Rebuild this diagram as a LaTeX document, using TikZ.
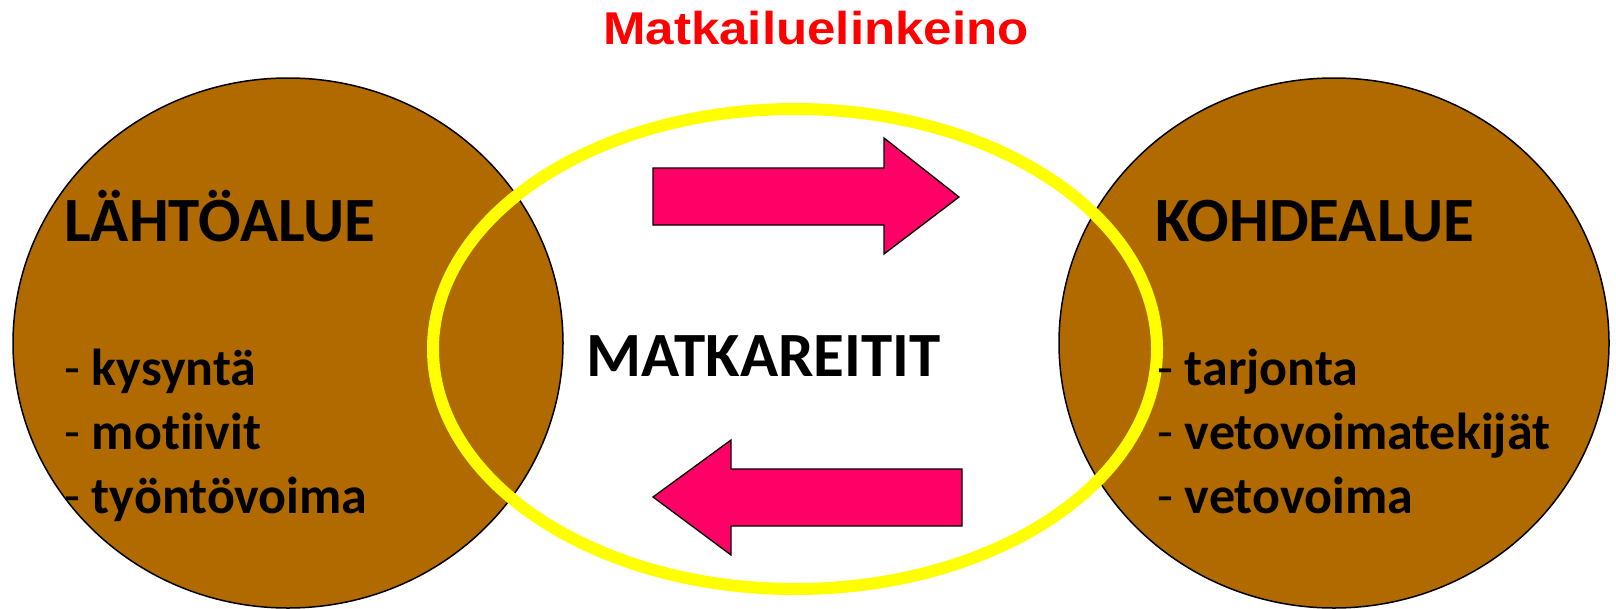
\documentclass[tikz,border=0pt]{standalone}
\usepackage{fontspec}
\setmainfont[Ligatures=NoCommon,RawFeature={-liga;-dlig;-clig}]{Carlito}
\newfontfamily\titlefont[FakeStretch=1.11]{Liberation Sans}
\usetikzlibrary{shapes.geometric}
\definecolor{areabrown}{RGB}{176,106,0}
\definecolor{arrowpink}{RGB}{255,0,102}
\definecolor{routeyellow}{RGB}{255,255,0}
\tikzset{
  area/.style={ellipse, draw=black, line width=1.5pt, fill=areabrown, minimum width=550pt, minimum height=530pt, inner sep=0pt},
  route/.style={ellipse, draw=routeyellow, line width=12pt, minimum width=724pt, minimum height=480pt, inner sep=0pt},
  flow/.style={fill=arrowpink, draw=black, line width=1.3pt, line join=miter},
  heading/.style={font=\bfseries\fontsize{63}{63}\selectfont, anchor=base west, inner sep=0pt},
  item/.style={font=\fontsize{52}{52}\selectfont, anchor=base west, inner sep=0pt},
}
\begin{document}
\begin{tikzpicture}[x=1pt,y=-1pt]
\useasboundingbox (0,0) rectangle (1616,608);
\fill[white] (0,0) rectangle (1616,608);
% areas
\node[area] (lahto) at (288,343) {};
\node[area] (kohde) at (1334,343) {};
% travel routes ellipse
\node[route] (reitit) at (795,349) {};
% arrows
\draw[flow] (653,168) -- (884,168) -- (884,138) -- (959,197) -- (884,254) -- (884,225) -- (653,225) -- cycle;
\draw[flow] (962,469) -- (731,469) -- (731,440) -- (653,497) -- (731,555) -- (731,526) -- (962,526) -- cycle;
% title
\node[font=\titlefont\bfseries\fontsize{46}{46}\selectfont, text=red, anchor=base, inner sep=0pt] (title) at (816,44) {Matkailuelinkeino};
% left texts
\node[heading] (lh) at (64,241) {LÄHTÖALUE};
\node[item] (l1) at (64,385) {- \textbf{kysyntä}};
\node[item] (l2) at (64,449) {- \textbf{motiivit}};
\node[item] (l3) at (64,513) {- \textbf{työntövoima}};
% middle
\node[heading] (mid) at (586,376) {MATKAREITIT};
% right texts
\node[heading] (kh) at (1155,241) {KOHDEALUE};
\node[item] (r1) at (1157,385) {- \textbf{tarjonta}};
\node[item] (r2) at (1157,449) {- \textbf{vetovoimatekijät}};
\node[item] (r3) at (1157,513) {- \textbf{vetovoima}};
\end{tikzpicture}
\end{document}
